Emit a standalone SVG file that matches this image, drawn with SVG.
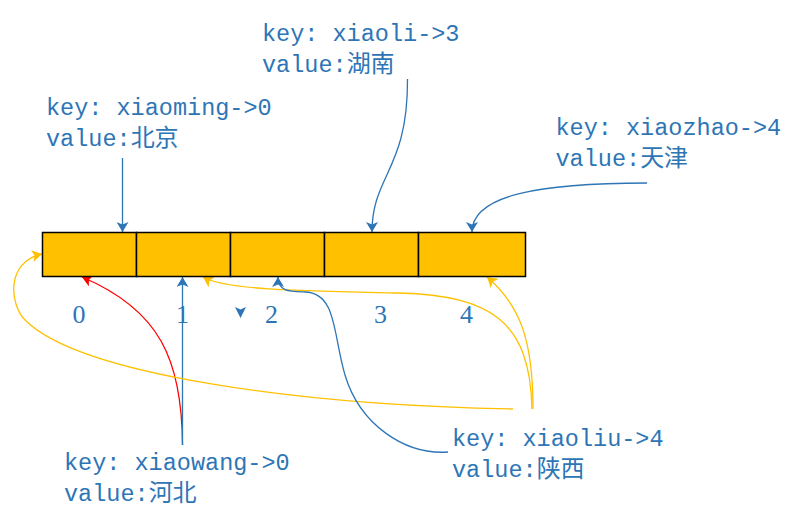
<svg xmlns="http://www.w3.org/2000/svg" width="799" height="522" viewBox="0 0 799 522">
<style>
.t{font-family:"Liberation Mono","Noto Sans CJK SC",monospace;font-size:23.5px;fill:#2E75B6}
.c{font-family:"Noto Sans CJK SC",sans-serif;font-size:24px}
.idx{font-family:"Liberation Serif",serif;font-size:26px;fill:#2E75B6;text-anchor:middle}
.cell{fill:#FFC000;stroke:#000;stroke-width:1.5}
.b{fill:none;stroke:#2E75B6;stroke-width:1.3}
.y{fill:none;stroke:#FFC000;stroke-width:1.3}
.r{fill:none;stroke:#FF0000;stroke-width:1.3}
</style>
<defs>
<marker id="ab" viewBox="0 0 10 12" markerWidth="10" markerHeight="12" refX="10" refY="6" orient="auto" markerUnits="userSpaceOnUse"><path d="M0,0 L10,6 L0,12 L2.5,6 Z" fill="#2E75B6"/></marker>
<marker id="ay" viewBox="0 0 10 12" markerWidth="10" markerHeight="12" refX="10" refY="6" orient="auto" markerUnits="userSpaceOnUse"><path d="M0,0 L10,6 L0,12 L2.5,6 Z" fill="#FFC000"/></marker>
<marker id="ar" viewBox="0 0 10 12" markerWidth="10" markerHeight="12" refX="10" refY="6" orient="auto" markerUnits="userSpaceOnUse"><path d="M0,0 L10,6 L0,12 L2.5,6 Z" fill="#FF0000"/></marker>
</defs>
<rect width="799" height="522" fill="#fff"/>
<g id="connectors">
<path class="b" d="M122.5,158 L122.5,232" marker-end="url(#ab)"/>
<path class="b" d="M407.5,79 C408,170 372,175 372,232" marker-end="url(#ab)"/>
<path class="b" d="M647,183 C540,183 472,195 472,232" marker-end="url(#ab)"/>
<path class="r" d="M182.5,445 C182,360 160,310 82,277" marker-end="url(#ar)"/>
<path class="b" d="M182.5,445 L182.5,277" marker-end="url(#ab)"/>
<path class="y" d="M513,409 C300,405 80,375 25,320 C10,305 5,262 42,254" marker-end="url(#ay)"/>
<path class="y" d="M532,409 C530,320 490,296 400,293 C300,291 225,290 203,277" marker-end="url(#ay)"/>
<path class="y" d="M533,409 C533,340 520,305 487,277" marker-end="url(#ay)"/>
<path class="b" d="M448,452 C405,455 360,425 345,375 C333,335 337,293 305,292 C290,291.5 278,292 278,277" marker-end="url(#ab)"/>
<path d="M235,307 L240.5,318 L246,307 L240.5,309.5 Z" fill="#2E75B6"/>
</g>
<g id="array">
<rect class="cell" x="42.5" y="232.5" width="94" height="44"/>
<rect class="cell" x="136.5" y="232.5" width="94" height="44"/>
<rect class="cell" x="230.5" y="232.5" width="94" height="44"/>
<rect class="cell" x="324.5" y="232.5" width="94" height="44"/>
<rect class="cell" x="418.5" y="232.5" width="107" height="44"/>
</g>
<g id="indices">
<text class="idx" x="79" y="323">0</text>
<text class="idx" x="182.5" y="323">1</text>
<text class="idx" x="271.5" y="323">2</text>
<text class="idx" x="380.5" y="323">3</text>
<text class="idx" x="466.5" y="323">4</text>
</g>
<g id="xiaoming">
<text class="t" x="46" y="115">key: xiaoming-&gt;0</text>
<text class="t" x="46" y="146">value:<tspan class="c">北京</tspan></text>
</g>
<g id="xiaoli">
<text class="t" x="262" y="41">key: xiaoli-&gt;3</text>
<text class="t" x="262" y="72">value:<tspan class="c">湖南</tspan></text>
</g>
<g id="xiaozhao">
<text class="t" x="555.5" y="135">key: xiaozhao-&gt;4</text>
<text class="t" x="555.5" y="166">value:<tspan class="c">天津</tspan></text>
</g>
<g id="xiaowang">
<text class="t" x="64" y="470">key: xiaowang-&gt;0</text>
<text class="t" x="64" y="501">value:<tspan class="c">河北</tspan></text>
</g>
<g id="xiaoliu">
<text class="t" x="452" y="446">key: xiaoliu-&gt;4</text>
<text class="t" x="452" y="477">value:<tspan class="c">陕西</tspan></text>
</g>
</svg>
